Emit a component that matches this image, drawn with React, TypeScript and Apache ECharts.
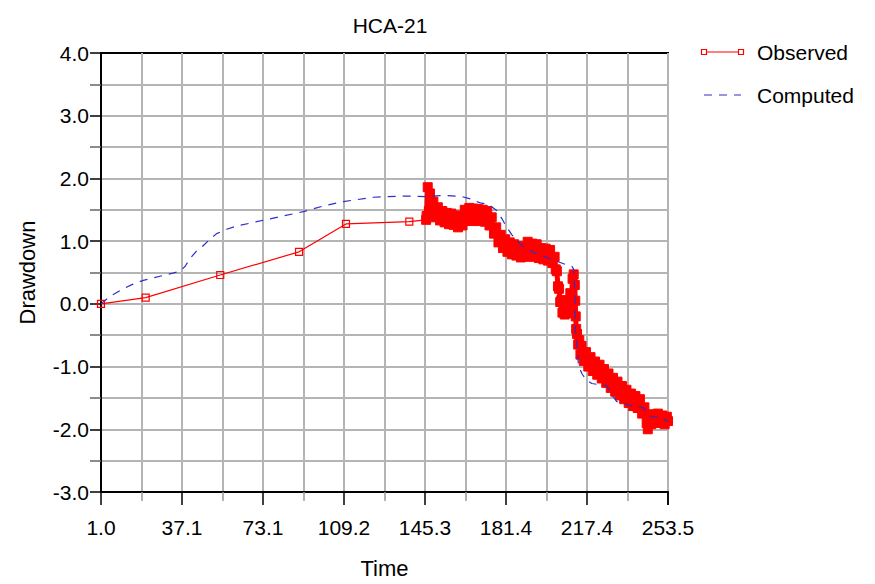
import React, { useEffect, useRef } from "react";
import * as echarts from "echarts";

const chartTitle = "HCA-21";
const xAxisTitle = "Time";
const yAxisTitle = "Drawdown";
const seriesNames = ["Observed", "Computed"];

const timeMin = 1.0;
const timeMax = 253.5;
const timeTickCount = 7;
const drawdownMin = -3;
const drawdownMax = 4;

// Observed: sparse early readings
const obsSparseTime = [1.0, 20.9, 54.1, 89.2, 110.1, 138.3, 145.8];
const obsSparseValue = [0.0, 0.1, 0.46, 0.83, 1.275, 1.31, 1.34];

// Observed: dense logger readings
const obsDenseTime = [
  145.8, 146, 146.5, 147, 147.5, 148, 149, 150, 151, 152, 153, 154, 155, 156, 157, 158, 159, 160,
  161, 162, 163, 164, 165, 166, 167, 168, 169, 170, 171, 172, 173, 174, 175, 176, 177, 178, 179,
  180, 181, 182, 183, 184, 185, 186, 187, 188, 189, 190, 191, 192, 193, 194, 195, 196, 197, 198,
  199, 200, 201, 202, 203, 203.5, 204, 204.5, 205, 205.5, 206, 206.5, 207, 207.5, 208, 208.5, 209,
  209.5, 210, 210.5, 211, 211.5, 212, 212.2, 212.4, 212.6, 213, 213.5, 214, 214.5, 215, 216, 217,
  218, 219, 220, 221, 222, 223, 224, 225, 226, 227, 228, 229, 230, 231, 232, 233, 234, 235, 236,
  237, 238, 239, 240, 241, 242, 243, 244, 244.5, 245, 246, 247, 248, 249, 250, 251, 252, 253, 253.5,
];
const obsDenseValue = [
  1.34, 1.4, 1.86, 1.48, 1.76, 1.45, 1.63, 1.38, 1.54, 1.33, 1.48, 1.3, 1.45, 1.27, 1.44, 1.26, 1.41, 1.22,
  1.39, 1.25, 1.5, 1.33, 1.53, 1.32, 1.52, 1.33, 1.51, 1.32, 1.5, 1.31, 1.48, 1.25, 1.38, 1.12, 1.22, 0.98, 1.1,
  0.89, 1.03, 0.83, 0.98, 0.79, 0.95, 0.77, 0.92, 0.74, 0.91, 0.75, 0.99, 0.78, 0.96, 0.75, 0.95, 0.73, 0.89, 0.71,
  0.88, 0.69, 0.86, 0.65, 0.75, 0.55, 0.52, 0.28, 0.24, 0.03, 0.06, -0.14, -0.01, -0.17, -0.02, -0.15, 0.04,
  -0.1, 0.17, 0.03, 0.4, 0.47, 0.3, 0.05, -0.2, -0.4, -0.48, -0.65, -0.58, -0.81, -0.67, -0.91, -0.77,
  -1.0, -0.85, -1.07, -0.92, -1.13, -0.97, -1.19, -1.04, -1.26, -1.11, -1.34, -1.18, -1.4, -1.24, -1.46, -1.31, -1.52, -1.37, -1.58,
  -1.43, -1.63, -1.47, -1.66, -1.52, -1.75, -1.65, -1.9, -2.0, -1.78, -1.92, -1.76, -1.88, -1.75, -1.9, -1.78, -1.92, -1.8, -1.87,
];

// Computed model curve
const compTime = [
  1, 5, 10.9, 15, 19.8, 27.3, 33, 36.2, 38.5, 40.6, 43.5, 46.6, 49.5, 52.5, 57, 61.4, 70.3, 79.3, 91.1,
  100, 108.9, 122.3, 136.4, 146, 153.5, 161.7, 166, 169.8, 173.5, 177.2, 179.5, 181.7, 184, 186.2, 189.5,
  193.6, 201, 208.4, 210.7, 211.5, 212, 212.1, 212.3, 212.9, 213.6, 215.1, 217, 219.6, 226.3, 228.5,
  230.7, 236.6, 242.6, 244, 245.5, 250, 253.5,
];
const compValue = [
  0, 0.12, 0.24, 0.31, 0.375, 0.44, 0.49, 0.52, 0.6, 0.72, 0.84, 0.93, 1.03, 1.12, 1.19, 1.24, 1.31, 1.38, 1.47,
  1.56, 1.63, 1.7, 1.72, 1.71, 1.73, 1.71, 1.67, 1.61, 1.59, 1.49, 1.36, 1.22, 1.1, 1.01, 0.9,
  0.82, 0.72, 0.62, 0.6, 0.55, 0.2, -0.2, -0.45, -0.6, -0.97, -1.11, -1.21, -1.27, -1.31, -1.45,
  -1.56, -1.62, -1.66, -1.72, -1.8, -1.8, -1.88,
];

const RED = "#ff0000";
const BLUE = "#2e2ec8";
const GRID = "#b4b4b4";
const FONT = "'Liberation Sans', Arial, sans-serif";

const span = timeMax - timeMin;
const toAxis = (t: number) => t - timeMin;
const pairs = (xs: number[], ys: number[]) => xs.map((x, i) => [toAxis(x), ys[i]]);

export default function App() {
  const ref = useRef<HTMLDivElement>(null);

  useEffect(() => {
    if (!ref.current) return;
    const chart = echarts.init(ref.current, undefined, { renderer: "svg" });

    const legendX = 704;
    const legendX2 = 741;
    const legendTextX = 757;
    const legendY1 = 52;
    const legendY2 = 95;

    chart.setOption({
      animation: false,
      backgroundColor: "#ffffff",
      title: {
        text: chartTitle,
        left: 385,
        top: 10,
        textAlign: "center",
        textStyle: { fontFamily: FONT, fontSize: 21, fontWeight: "normal", color: "#000" },
      },
      grid: {
        left: 101,
        right: 207,
        top: 53,
        bottom: 90,
        show: true,
        borderColor: "#000",
        borderWidth: 2,
        backgroundColor: "transparent",
      },
      xAxis: {
        type: "value",
        min: 0,
        max: span,
        interval: span / timeTickCount,
        name: xAxisTitle,
        nameLocation: "middle",
        nameGap: 65,
        nameTextStyle: { fontFamily: FONT, fontSize: 22, color: "#000" },
        axisLine: { show: true, onZero: false, lineStyle: { color: "#000", width: 2 } },
        axisTick: { show: true, length: 13, lineStyle: { color: "#000", width: 1.5 } },
        minorTick: { show: true, splitNumber: 2, length: 9, lineStyle: { color: "#999", width: 1.5 } },
        axisLabel: {
          fontFamily: FONT,
          fontSize: 21,
          color: "#000",
          margin: 25,
          formatter: (v: number) => (v + timeMin).toFixed(1),
        },
        splitLine: { show: true, showMinLine: false, showMaxLine: false, lineStyle: { color: GRID, width: 2 } },
        minorSplitLine: { show: true, lineStyle: { color: GRID, width: 2 } },
      },
      yAxis: {
        type: "value",
        min: drawdownMin,
        max: drawdownMax,
        interval: 1,
        name: yAxisTitle,
        nameLocation: "middle",
        nameGap: 63,
        nameRotate: 90,
        nameTextStyle: { fontFamily: FONT, fontSize: 22, color: "#000" },
        axisLine: { show: true, onZero: false, lineStyle: { color: "#000", width: 2 } },
        axisTick: { show: true, length: 11, lineStyle: { color: "#000", width: 1.5 } },
        minorTick: { show: true, splitNumber: 2, length: 11, lineStyle: { color: "#666", width: 1.5 } },
        axisLabel: {
          fontFamily: FONT,
          fontSize: 21,
          color: "#000",
          margin: 12,
          formatter: (v: number) => v.toFixed(1),
        },
        splitLine: { show: true, showMinLine: false, showMaxLine: false, lineStyle: { color: GRID, width: 2 } },
        minorSplitLine: { show: true, lineStyle: { color: GRID, width: 2 } },
      },
      series: [
        {
          name: seriesNames[0],
          type: "line",
          data: pairs(obsSparseTime, obsSparseValue),
          symbol: "rect",
          symbolSize: 7,
          showAllSymbol: true,
          lineStyle: { color: RED, width: 1.2 },
          itemStyle: { color: "transparent", borderColor: RED, borderWidth: 1.2 },
          z: 2,
        },
        {
          name: seriesNames[0],
          type: "line",
          data: pairs(obsDenseTime, obsDenseValue),
          symbol: "rect",
          symbolSize: 9,
          showAllSymbol: true,
          lineStyle: { color: RED, width: 5 },
          itemStyle: { color: RED, borderColor: RED, borderWidth: 1 },
          z: 2,
        },
        {
          name: seriesNames[1],
          type: "line",
          data: pairs(compTime, compValue),
          symbol: "none",
          lineStyle: { color: BLUE, width: 1.2, type: [8, 7] },
          z: 3,
        },
      ],
      graphic: [
        {
          type: "line",
          shape: { x1: legendX, y1: legendY1, x2: legendX2, y2: legendY1 },
          style: { stroke: RED, lineWidth: 1.2 },
        },
        {
          type: "rect",
          shape: { x: legendX - 2.5, y: legendY1 - 2.5, width: 5, height: 5 },
          style: { fill: "#fff", stroke: RED, lineWidth: 1.2 },
        },
        {
          type: "rect",
          shape: { x: legendX2 - 2.5, y: legendY1 - 2.5, width: 5, height: 5 },
          style: { fill: "#fff", stroke: RED, lineWidth: 1.2 },
        },
        {
          type: "text",
          x: legendTextX,
          y: legendY1,
          style: { text: seriesNames[0], fontFamily: FONT, fontSize: 21, fill: "#000", verticalAlign: "middle" },
        },
        {
          type: "line",
          shape: { x1: legendX, y1: legendY2, x2: legendX2, y2: legendY2 },
          style: { stroke: BLUE, lineWidth: 1.2, lineDash: [8, 7] },
        },
        {
          type: "text",
          x: legendTextX,
          y: legendY2,
          style: { text: seriesNames[1], fontFamily: FONT, fontSize: 21, fill: "#000", verticalAlign: "middle" },
        },
      ],
    });

    return () => chart.dispose();
  }, []);

  return (
    <div
      ref={ref}
      style={{ position: "fixed", left: 0, top: 0, width: 875, height: 584, background: "#fff" }}
    />
  );
}
